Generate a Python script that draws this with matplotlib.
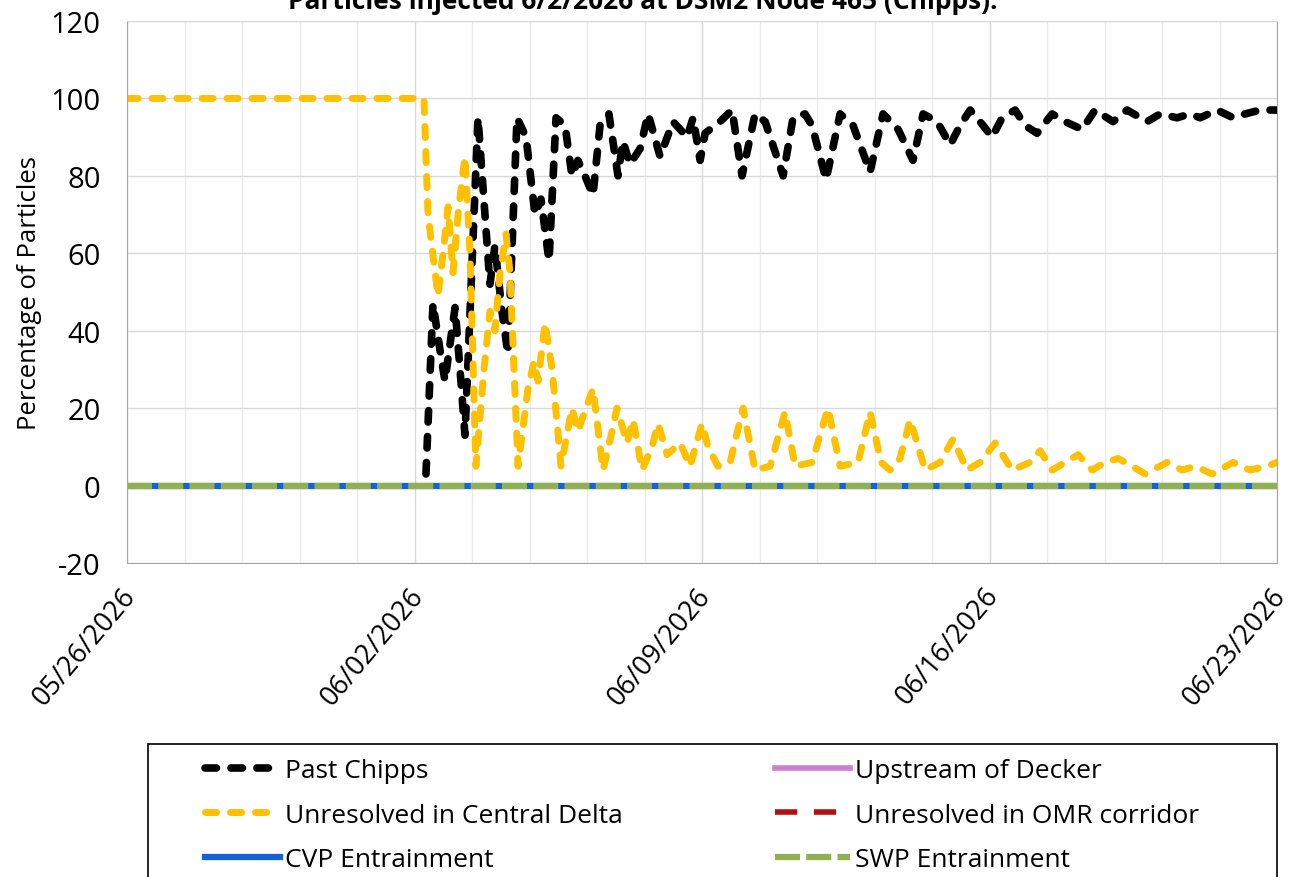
import numpy as np
import pandas as pd
import matplotlib
matplotlib.use("Agg")
import matplotlib.pyplot as plt
import matplotlib.dates as mdates
from matplotlib.patches import Rectangle
from matplotlib.transforms import ScaledTranslation

plt.rcParams['font.family'] = ['Open Sans', 'DejaVu Sans']
plt.rcParams['axes.unicode_minus'] = False

# hours after 2026-06-02 00:00 (injection day), values in percent
chipps_hours = [6.7, 10.8, 14.9, 17.8, 23.7, 26.6, 29.5, 37.1, 44.1, 47.0, 51.1, 54.6,
                59.9, 65.2, 70.4, 73.9, 78.6, 82.7, 88.0, 92.0, 95.5, 99.6, 104.3, 108.4,
                113.6, 118.9, 121.8, 125.9, 131.8, 136.5, 143.5, 151.1, 159.3, 162.8, 166.9,
                169.8, 178.5, 185.6, 191.4, 199.0, 204.9, 215.4, 221.2, 228.2, 232.3, 240.5,
                248.7, 256.3, 266.2, 273.8, 282.6, 291.3, 297.2, 305.4, 313.0, 318.8, 324.7,
                332.3, 337.5, 343.4, 351.0, 356.8, 363.8, 372.6, 380.2, 390.1, 397.7, 408.2,
                416.4, 428.1, 435.7, 445.6, 453.2, 459.1, 469.0, 478.4, 485.4, 494.1, 504.0]
chipps = [3, 47, 35, 27, 46, 30, 13, 95, 52, 62, 45, 34,
          95, 90, 70, 74, 58, 95, 93, 80, 84, 80, 75, 93,
          96, 80, 89, 83, 87, 96, 85, 94, 90, 95, 84,
          91, 94, 97, 80, 96, 94, 80, 95, 96, 93, 79,
          96, 93, 81, 96, 92, 84, 96, 94, 88, 93, 97,
          93, 90, 95, 97, 93, 91, 96, 94, 92, 97, 94,
          97, 94, 96, 95, 96, 95, 97, 95, 96, 97, 97]

central_hours = [-168, 5.5, 7.9, 13.7, 16.7, 19.6, 22.5, 25.4, 29.5, 32.4, 35.9, 40.6,
                 44.1, 47.0, 50.0, 53.5, 55.8, 60.5, 66.3, 69.8, 72.2, 76.3, 80.4, 85.6,
                 92.0, 95.5, 100.2, 104.3, 110.2, 115.4, 118.3, 124.2, 127.7, 133.0, 138.8,
                 142.3, 147.6, 155.2, 161.0, 168.0, 171.5, 177.3, 184.4, 192.0, 199.0, 207.8,
                 216.5, 222.4, 232.3, 241.6, 248.7, 259.2, 266.2, 272.6, 277.9, 283.7, 289.6,
                 298.4, 307.1, 314.7, 322.9, 330.5, 339.3, 349.2, 359.7, 365.6, 372.6, 380.2,
                 387.8, 396.0, 403.5, 411.1, 419.3, 426.9, 439.8, 448.5, 456.1, 466.1, 478.4,
                 488.3, 498.2, 504.0]
central = [100, 100, 70, 49, 60, 72, 55, 70, 85, 60, 5, 30,
           45, 40, 55, 65, 55, 5, 25, 32, 27, 42, 30, 5,
           20, 14, 20, 25, 4, 14, 20, 11, 17, 4, 10,
           16, 8, 11, 5, 16, 10, 5, 6, 20, 4, 5,
           19, 5, 6, 20, 5, 6, 19, 6, 4, 7, 17,
           4, 6, 12, 4, 6, 11, 4, 6, 9, 4, 6,
           8, 4, 6, 7, 5, 3, 6, 4, 5, 3, 6,
           4, 5, 6]

flat_hours = [-168, 504]
decker = [0, 0]
omr = [0, 0]
cvp = [0, 0]
swp = [0, 0]

t0 = pd.Timestamp('2026-06-02')
x_start = pd.Timestamp('2026-05-26')
x_end = pd.Timestamp('2026-06-23')


def to_time(hours):
    return t0 + pd.to_timedelta(hours, unit='h')


fig = plt.figure(figsize=(12.93, 8.78), dpi=100)
ax = fig.add_axes([127 / 1293, 1 - 564 / 878, 1150 / 1293, 542 / 878])

dash = dict(dash_capstyle='round', solid_capstyle='round')
l_chipps, = ax.plot(to_time(chipps_hours), chipps, color='black', lw=5.5, ls=(0, (1.5, 1.9)),
                    label='Past Chipps', **dash)
l_decker, = ax.plot(to_time(flat_hours), decker, color='#CC7FD0', lw=4,
                    label='Upstream of Decker')
l_central, = ax.plot(to_time(central_hours), central, color='#FFC000', lw=5, ls=(0, (1.6, 2.0)),
                     label='Unresolved in Central Delta', **dash)
l_omr, = ax.plot(to_time(flat_hours), omr, color='#B01010', lw=4, ls=(0, (4, 3)),
                 label='Unresolved in OMR corridor')
l_cvp, = ax.plot(to_time(flat_hours), cvp, color='#1560DC', lw=4.5,
                 label='CVP Entrainment')
l_swp, = ax.plot(to_time(flat_hours), swp, color='#92B050', lw=4.5, ls=(0, (4.0, 1.0)),
                 label='SWP Entrainment', dash_capstyle='butt')

ax.set_xlim(x_start, x_end)
ax.set_ylim(-20, 120)
ax.set_yticks(range(-20, 121, 20))

ax.xaxis.set_major_locator(mdates.DayLocator(bymonthday=[2, 9, 16, 23, 26]))
ax.xaxis.set_major_formatter(mdates.DateFormatter('%m/%d/%Y'))
minor = mdates.date2num(x_start) + np.arange(0, 28.01, 1.4)
ax.set_xticks(minor, minor=True)

ax.grid(True, which='major', color='#D9D9D9', lw=1)
ax.grid(True, which='minor', axis='x', color='#EBEBEB', lw=1)
ax.set_axisbelow(True)
ax.tick_params(which='both', length=0)
ax.tick_params(axis='y', labelsize=21, pad=19)
ax.tick_params(axis='x', labelsize=19.5, pad=20)
shift = ScaledTranslation(0.04, 0, fig.dpi_scale_trans)
for lab in ax.get_xticklabels():
    lab.set_rotation(50)
    lab.set_ha('right')
    lab.set_va('center')
    lab.set_rotation_mode('anchor')
    lab.set_transform(lab.get_transform() + shift)

for s in ax.spines.values():
    s.set_color('#A6A6A6')
ax.spines['top'].set_color('#D9D9D9')

ax.set_ylabel('Percentage of Particles', fontsize=18.5, labelpad=6)

fig.text(0.497, 1 - 9 / 878, 'Particles injected 6/2/2026 at DSM2 Node 465 (Chipps).',
         ha='center', va='baseline', fontsize=19, fontweight='bold')

# legend box, running off the bottom edge
fig.add_artist(Rectangle((148 / 1293, -0.05), 1129 / 1293, 0.05 + 133 / 878,
                         transform=fig.transFigure, facecolor='white',
                         edgecolor='black', lw=1.2))
leg_kw = dict(frameon=False, fontsize=19, handlelength=2.85, handletextpad=0.2,
              labelspacing=0.74, borderpad=0, borderaxespad=0, loc='upper left')
fig.legend([l_chipps, l_central, l_cvp],
           ['Past Chipps', 'Unresolved in Central Delta', 'CVP Entrainment'],
           bbox_to_anchor=(205 / 1293, 1 - 759 / 878), **leg_kw)
fig.legend([l_decker, l_omr, l_swp],
           ['Upstream of Decker', 'Unresolved in OMR corridor', 'SWP Entrainment'],
           bbox_to_anchor=(775 / 1293, 1 - 759 / 878), **leg_kw)

fig.savefig('out.png', dpi=100)
